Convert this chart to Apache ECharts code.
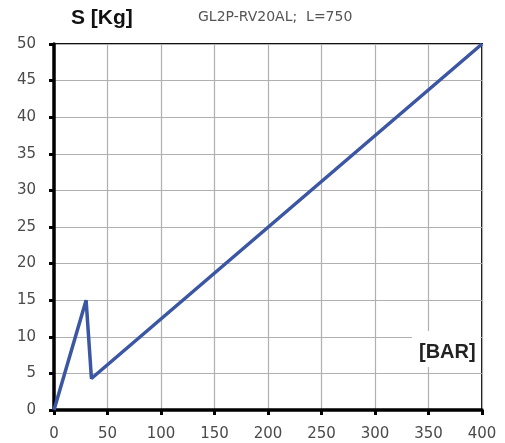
<!DOCTYPE html>
<html><head><meta charset="utf-8">
<script src="https://cdn.jsdelivr.net/npm/echarts@6/dist/echarts.min.js"></script>
<style>html,body{margin:0;padding:0;background:#fff}#c{width:505px;height:443px}</style>
</head><body><div id="c"></div>
<script>
const pressureBar = [0, 30, 35, 400];
const forceKg = [0, 15, 4.3, 50];
const xTicks = [0, 50, 100, 150, 200, 250, 300, 350, 400];
const yTicks = [0, 5, 10, 15, 20, 25, 30, 35, 40, 45, 50];
const yTitle = 'S [Kg]';
const chartTitle = 'GL2P-RV20AL;  L=750';
const xTitle = '[BAR]';

const chart = echarts.init(document.getElementById('c'));
const tickFont = {fontFamily: 'DejaVu Sans', fontSize: 15, color: '#4a4a4a'};
chart.setOption({
  animation: false,
  grid: {left: 54, right: 23, top: 44, bottom: 33, show: true, borderColor: '#111', borderWidth: 2, backgroundColor: 'transparent'},
  xAxis: {
    type: 'value', min: xTicks[0], max: xTicks[xTicks.length-1], interval: 50,
    axisLine: {show: true, lineStyle: {color: '#000', width: 3.5}},
    axisTick: {show: true, length: 5, lineStyle: {color: '#000', width: 3}},
    axisLabel: Object.assign({margin: 17}, tickFont),
    splitLine: {show: true, lineStyle: {color: '#b0b0b0', width: 1.2}}
  },
  yAxis: {
    type: 'value', min: yTicks[0], max: yTicks[yTicks.length-1], interval: 5,
    axisLine: {show: true, lineStyle: {color: '#000', width: 3.5}},
    axisTick: {show: true, length: 5, lineStyle: {color: '#000', width: 3}},
    axisLabel: Object.assign({margin: 18}, tickFont),
    splitLine: {show: true, lineStyle: {color: '#b0b0b0', width: 1.2}}
  },
  series: [{
    type: 'line',
    data: pressureBar.map((x, i) => [x, forceKg[i]]),
    symbol: 'none',
    lineStyle: {color: '#3b56a3', width: 3.5},
    z: 3
  }],
  graphic: [
    {type: 'text', left: 71, top: 8, style: {text: yTitle, font: 'bold 21px "Liberation Sans"', fill: '#111'}},
    {type: 'text', left: 198, top: 10, style: {text: chartTitle, font: '14px "DejaVu Sans"', fill: '#555'}},
    {type: 'text', left: 412, top: 331, z: 10, style: {text: xTitle, font: 'bold 20px "Liberation Sans"', fill: '#222', backgroundColor: '#fff', padding: [11, 5, 5, 7]}}
  ]
});
</script></body></html>
